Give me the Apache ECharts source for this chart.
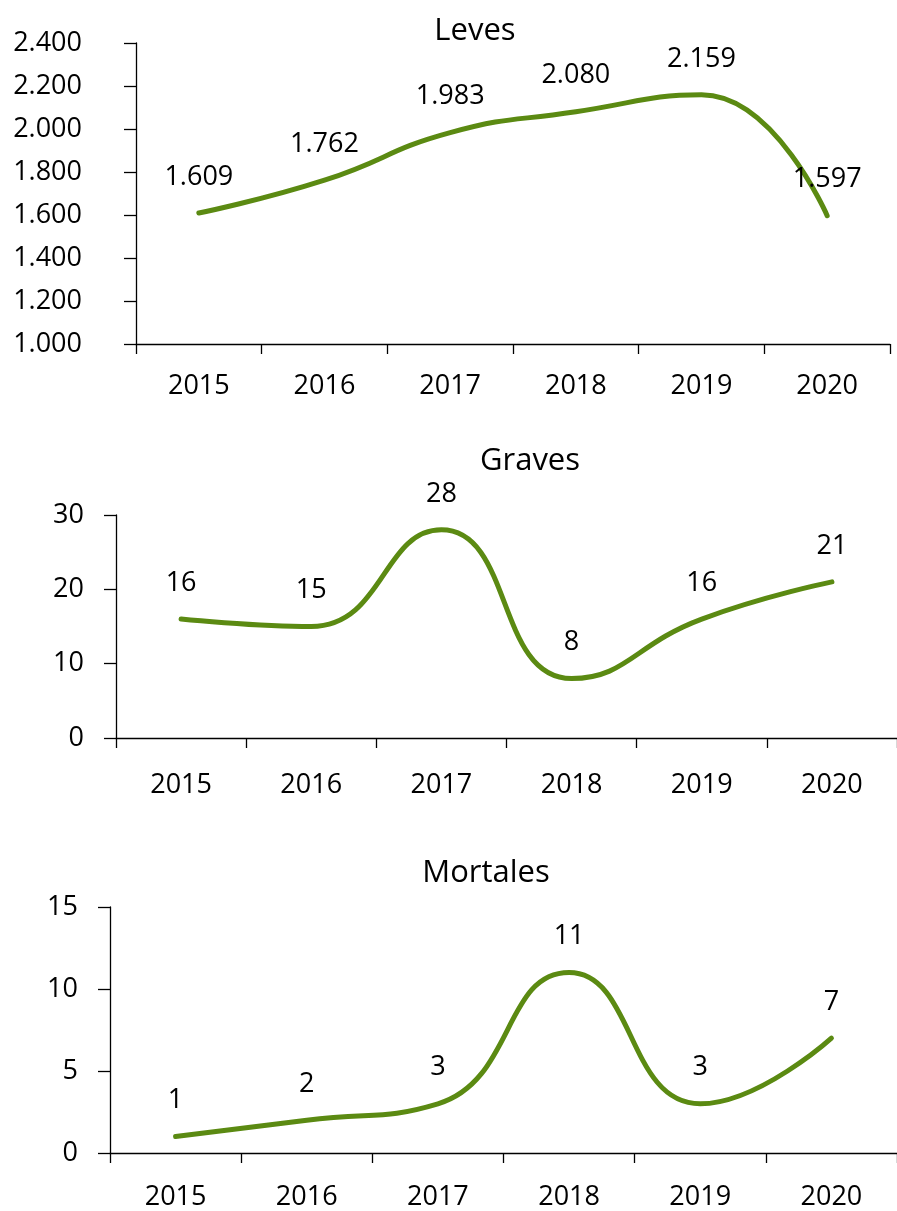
<!DOCTYPE html>
<html lang="es">
<head>
  <meta charset="UTF-8">
  <title>Leves, Graves, Mortales</title>
  <script src="https://cdn.jsdelivr.net/npm/echarts@6/dist/echarts.min.js"></script>
  <style>
    html, body { margin: 0; padding: 0; background: #fff; }
  </style>
</head>
<body>
  <div id="main" style="width: 897px; height: 1211px;"></div>

  <script type="text/javascript">
    // Data
    const years = ['2015', '2016', '2017', '2018', '2019', '2020'];
    const leves = [1609, 1762, 1983, 2080, 2159, 1597];
    const graves = [16, 15, 28, 8, 16, 21];
    const mortales = [1, 2, 3, 11, 3, 7];

    const FONT = '"Open Sans", "Liberation Sans", sans-serif';
    const GREEN = '#5B8A12';

    // thousands separator with a dot (2.400)
    function fmt(v) {
      return String(v).replace(/\B(?=(\d{3})+(?!\d))/g, '.');
    }

    let myChart = echarts.init(document.getElementById('main'));

    const grids = [
      { left: 136, top: 43, width: 754, height: 301 },
      { left: 116, top: 515, width: 788, height: 223 },
      { left: 110, top: 907, width: 790, height: 249 }
    ];
    const yCfg = [
      { min: 1000, max: 2400, interval: 200, margin: 54 },
      { min: 0, max: 30, interval: 10, margin: 32 },
      { min: 0, max: 15, interval: 5, margin: 32 }
    ];
    const xMargin = [29, 34, 31];
    const titles = [
      { text: 'Leves', x: 475, y: 16 },
      { text: 'Graves', x: 530, y: 446 },
      { text: 'Mortales', x: 486, y: 858 }
    ];
    const seriesData = [leves, graves, mortales];

    const axisLine = { show: true, lineStyle: { color: '#000', width: 1.3 } };

    const options = {
      animation: false,
      title: titles.map(t => ({
        text: t.text,
        left: t.x,
        top: t.y,
        textAlign: 'center',
        padding: 0,
        textStyle: { fontFamily: FONT, fontSize: 31, fontWeight: 'normal', color: '#000' }
      })),
      grid: grids,
      xAxis: grids.map((g, i) => ({
        type: 'category',
        gridIndex: i,
        data: years,
        boundaryGap: true,
        axisLine: axisLine,
        axisTick: { show: true, length: 10, lineStyle: { color: '#000', width: 1.3 } },
        axisLabel: { fontFamily: FONT, fontSize: 27, color: '#000', margin: xMargin[i] },
        splitLine: { show: false }
      })),
      yAxis: yCfg.map((c, i) => ({
        type: 'value',
        gridIndex: i,
        min: c.min,
        max: c.max,
        interval: c.interval,
        axisLine: axisLine,
        axisTick: { show: true, length: 12, lineStyle: { color: '#000', width: 1.3 } },
        axisLabel: { fontFamily: FONT, fontSize: 27, color: '#000', margin: c.margin, formatter: fmt },
        splitLine: { show: false }
      })),
      series: seriesData.map((d, i) => ({
        type: 'line',
        xAxisIndex: i,
        yAxisIndex: i,
        data: d,
        smooth: 0.5,
        // tiny invisible symbols so the value labels are drawn
        showSymbol: true,
        symbol: 'circle',
        symbolSize: 1,
        itemStyle: { color: 'rgba(0,0,0,0)', borderWidth: 0 },
        lineStyle: { color: GREEN, width: 5, cap: 'round' },
        label: {
          show: true,
          position: 'top',
          distance: 22,
          opacity: 1,
          fontFamily: FONT,
          fontSize: 27,
          color: '#000',
          formatter: p => fmt(p.value)
        }
      }))
    };

    myChart.setOption(options);
  </script>
</body>
</html>
